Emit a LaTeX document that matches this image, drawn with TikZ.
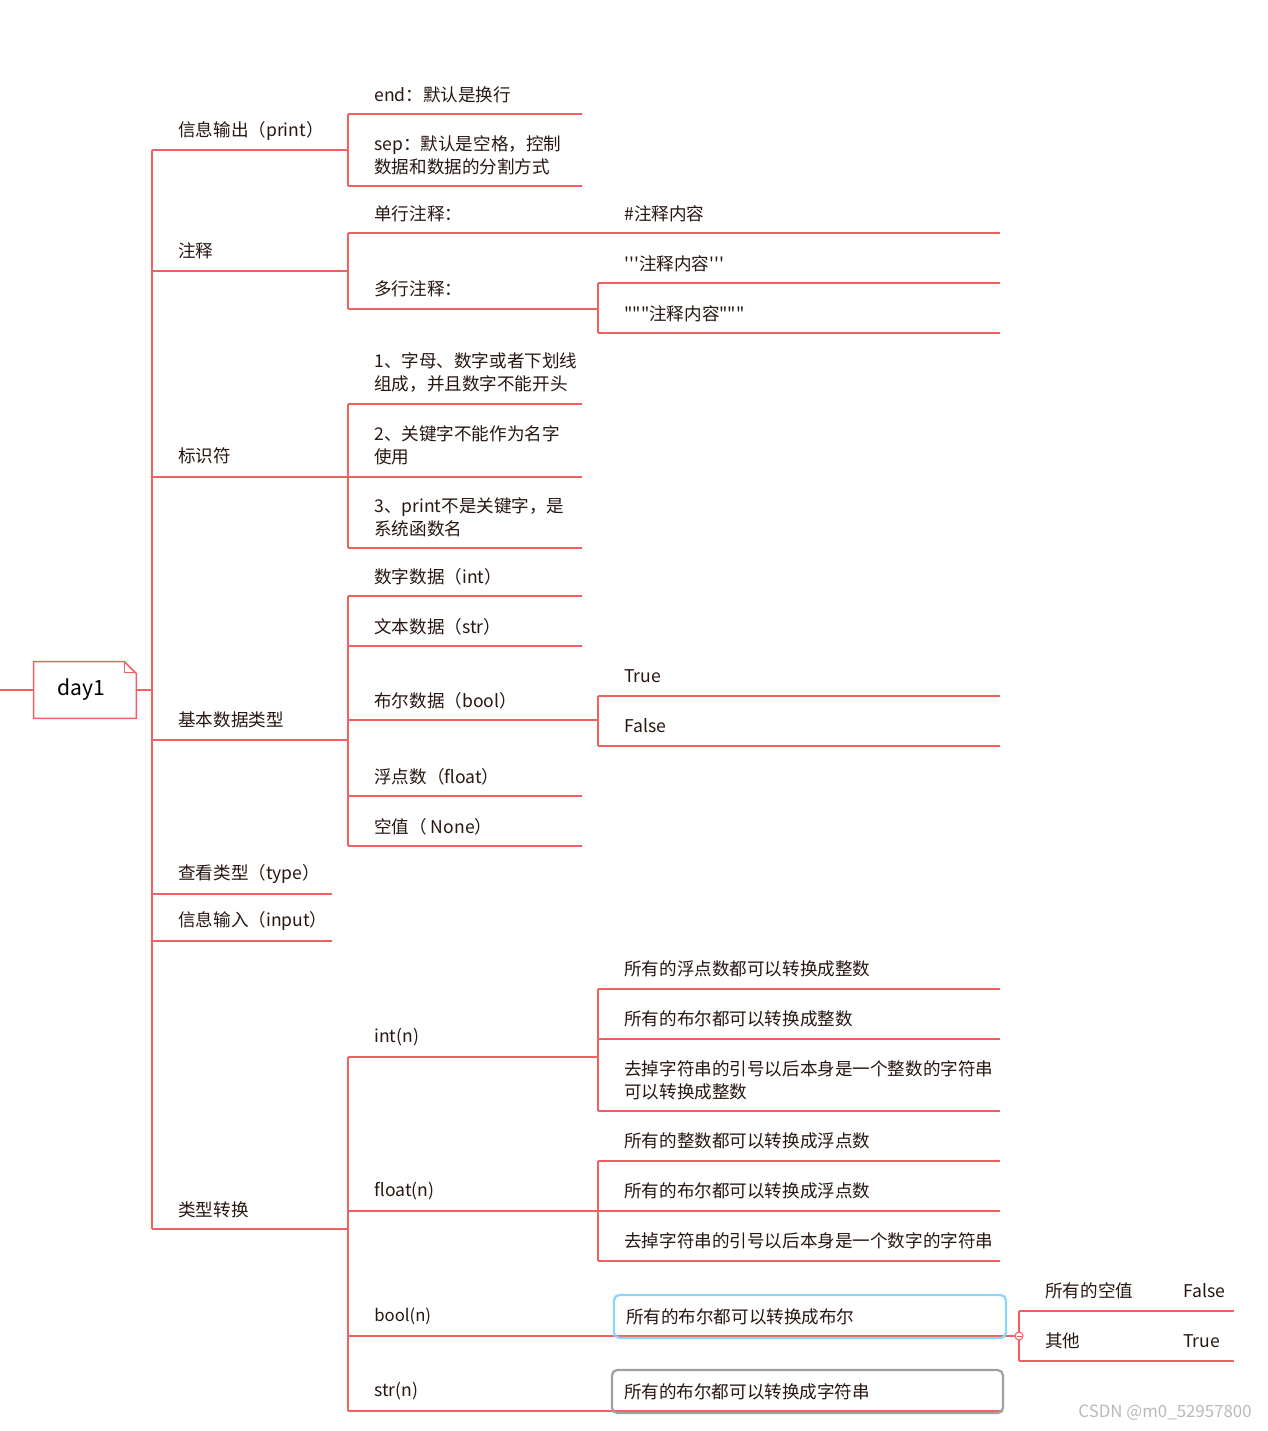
\documentclass[tikz,border=0pt]{standalone}
\usepackage{fontspec}
\usepackage{xcolor}
\newfontfamily\cjk{Noto Sans CJK SC}
\usetikzlibrary{positioning, calc}

\definecolor{mapred}{RGB}{242,96,96}
\definecolor{maptext}{RGB}{40,22,16}
\definecolor{selblue}{RGB}{140,212,248}
\definecolor{selgray}{RGB}{160,160,160}
\definecolor{markgray}{RGB}{185,185,185}

\begin{document}
\begin{tikzpicture}[x=0.02cm, y=-0.02cm,
    branch/.style={draw=mapred, line width=0.9pt},
    topic/.style={anchor=west, inner sep=0pt, align=left, text=maptext, font=\cjk\fontsize{10}{13}\selectfont},
    selbox/.style={draw, rounded corners=3pt, line width=1.3pt, inner xsep=0.24cm, inner ysep=0pt, minimum height=0.86cm, align=left, text=maptext, font=\cjk\fontsize{10}{13}\selectfont}]
    \useasboundingbox (0,0) rectangle (1268,1431);

    % Root
    \node[inner sep=0pt, minimum width=2.04cm, minimum height=1.12cm, font=\cjk\fontsize{12}{15}\selectfont, text=black] (day1) at (85,690) {\hspace*{-0.16cm}day1};
    \draw[mapred, line width=0.9pt] (day1.north west) -- ([xshift=-0.24cm]day1.north east) -- ([yshift=-0.24cm]day1.north east) -- (day1.south east) -- (day1.south west) -- cycle;
    \draw[mapred, line width=0.7pt] ([xshift=-0.24cm]day1.north east) -- ([xshift=-0.24cm, yshift=-0.22cm]day1.north east) -- ([yshift=-0.22cm]day1.north east);
    \coordinate (stub) at (0,690);
    \coordinate (trunk) at (152,690);
    \draw[branch] (stub) -- (day1.west);
    \draw[branch] (day1.east) -- (trunk);

    % Level 1 branches
    \coordinate (fprint) at (348,150);
    \coordinate (fnote) at (348,271);
    \coordinate (fident) at (348,477);
    \coordinate (fdata) at (348,740);
    \coordinate (ftype) at (332,894);
    \coordinate (finput) at (332,941);
    \coordinate (fconv) at (348,1229);
    \draw[branch] (trunk |- fprint) -- (trunk |- fconv);
    \foreach \f in {fprint,fnote,fident,fdata,ftype,finput,fconv}
        \draw[branch] (trunk |- \f) -- (\f);

    \node[topic] (tprint) at (178,131) {信息输出（print）};
    \node[topic] (tnote) at (178,251) {注释};
    \node[topic] (tident) at (178,456) {标识符};
    \node[topic] (tdata) at (178,720) {基本数据类型};
    \node[topic] (ttype) at (178,874) {查看类型（type）};
    \node[topic] (tinput) at (178,921) {信息输入（input）};
    \node[topic] (tconv) at (178,1210) {类型转换};

    % print
    \coordinate (eend) at (582,114);
    \coordinate (esep) at (582,186);
    \draw[branch] (fprint |- eend) -- (fprint |- esep);
    \foreach \e in {eend,esep} \draw[branch] (fprint |- \e) -- (\e);
    \node[topic] (tend) at (374,95) {end：默认是换行};
    \node[topic] (tsep) at (374,155.5) {sep：默认是空格，控制\\数据和数据的分割方式};

    % comments
    \coordinate (esingle) at (598,233);
    \coordinate (emulti) at (598,309);
    \coordinate (ehash) at (1000,233);
    \coordinate (eq3) at (1000,283);
    \coordinate (edq3) at (1000,333);
    \draw[branch] (fnote |- esingle) -- (fnote |- emulti);
    \foreach \e in {esingle,emulti} \draw[branch] (fnote |- \e) -- (\e);
    \draw[branch] (esingle) -- (ehash);
    \draw[branch] (emulti |- eq3) -- (emulti |- edq3);
    \foreach \e in {eq3,edq3} \draw[branch] (emulti |- \e) -- (\e);
    \node[topic] (tsingle) at (374,214) {单行注释：};
    \node[topic] (tmulti) at (374,289) {多行注释：};
    \node[topic] (thash) at (624,214) {\#注释内容};
    \node[topic] (tq3) at (624,264) {'''注释内容'''};
    \node[topic] (tdq3) at (624,314) {"""注释内容"""};

    % identifiers
    \coordinate (eid1) at (582,404);
    \coordinate (eid2) at (582,477);
    \coordinate (eid3) at (582,548);
    \draw[branch] (fident |- eid1) -- (fident |- eid3);
    \foreach \e in {eid1,eid2,eid3} \draw[branch] (fident |- \e) -- (\e);
    \node[topic] (tid1) at (374,372.5) {1、字母、数字或者下划线\\组成，并且数字不能开头};
    \node[topic] (tid2) at (374,445) {2、关键字不能作为名字\\使用};
    \node[topic] (tid3) at (374,517.5) {3、print不是关键字，是\\系统函数名};

    % data types
    \coordinate (enum) at (582,596);
    \coordinate (etxt) at (582,646);
    \coordinate (ebool) at (598,720);
    \coordinate (eflt) at (582,796);
    \coordinate (enone) at (582,846);
    \coordinate (etrue) at (1000,696);
    \coordinate (efalse) at (1000,746);
    \draw[branch] (fdata |- enum) -- (fdata |- enone);
    \foreach \e in {enum,etxt,ebool,eflt,enone} \draw[branch] (fdata |- \e) -- (\e);
    \draw[branch] (ebool |- etrue) -- (ebool |- efalse);
    \foreach \e in {etrue,efalse} \draw[branch] (ebool |- \e) -- (\e);
    \node[topic] (tnum) at (374,577) {数字数据（int）};
    \node[topic] (ttxt) at (374,627) {文本数据（str）};
    \node[topic] (tbool) at (374,701) {布尔数据（bool）};
    \node[topic] (tflt) at (374,777) {浮点数（float）};
    \node[topic] (tnone) at (374,827) {空值（ None）};
    \node[topic] (ttrue) at (624,676) {True};
    \node[topic] (tfalse) at (624,726) {False};

    % conversions
    \coordinate (eint) at (598,1057);
    \coordinate (efloat) at (598,1211);
    \coordinate (ebooln) at (598,1336);
    \coordinate (estr) at (598,1411);
    \draw[branch] (fconv |- eint) -- (fconv |- estr);
    \foreach \e in {eint,efloat,ebooln,estr} \draw[branch] (fconv |- \e) -- (\e);
    \node[topic] (tint) at (374,1037) {int(n)};
    \node[topic] (tfloat) at (374,1191) {float(n)};
    \node[topic, font=\cjk\fontsize{9.5}{12}\selectfont] (tbooln) at (374,1316) {bool(n)};
    \node[topic] (tstr) at (374,1391) {str(n)};

    % int(n)
    \coordinate (ei1) at (1000,989);
    \coordinate (ei2) at (1000,1039);
    \coordinate (ei3) at (1000,1111);
    \draw[branch] (eint |- ei1) -- (eint |- ei3);
    \foreach \e in {ei1,ei2,ei3} \draw[branch] (eint |- \e) -- (\e);
    \node[topic] (ti1) at (624,969) {所有的浮点数都可以转换成整数};
    \node[topic] (ti2) at (624,1019) {所有的布尔都可以转换成整数};
    \node[topic] (ti3) at (624,1080) {去掉字符串的引号以后本身是一个整数的字符串\\可以转换成整数};

    % float(n)
    \coordinate (ef1) at (1000,1161);
    \coordinate (ef2) at (1000,1211);
    \coordinate (ef3) at (1000,1261);
    \draw[branch] (efloat |- ef1) -- (efloat |- ef3);
    \foreach \e in {ef1,ef2,ef3} \draw[branch] (efloat |- \e) -- (\e);
    \node[topic] (tf1) at (624,1141) {所有的整数都可以转换成浮点数};
    \node[topic] (tf2) at (624,1191) {所有的布尔都可以转换成浮点数};
    \node[topic] (tf3) at (624,1241) {去掉字符串的引号以后本身是一个数字的字符串};

    % bool(n) and str(n)
    \coordinate (fbb) at (1019,1336);
    \coordinate (eempty) at (1234,1311);
    \coordinate (eother) at (1234,1361);
    \coordinate (estrend) at (1003,1411);
    \draw[branch] (ebooln) -- (fbb);
    \draw[branch] (estr) -- (estrend);
    \draw[branch] (fbb |- eempty) -- (fbb |- eother);
    \foreach \e in {eempty,eother} \draw[branch] (fbb |- \e) -- (\e);
    \node[selbox, draw=selblue, text width=7.36cm] (tbb) at (810,1316.5) {所有的布尔都可以转换成布尔};
    \node[selbox, draw=selgray, text width=7.34cm] (tsb) at (807.5,1391.5) {所有的布尔都可以转换成字符串};
    \node[circle, draw=mapred, fill=white, line width=0.6pt, inner sep=0pt, minimum size=0.16cm] (fold) at (fbb) {};
    \draw[mapred, line width=0.5pt] ([xshift=-0.05cm]fold.center) -- ([xshift=0.05cm]fold.center);
    \node[topic] (tempty) at (1045,1291) {所有的空值};
    \node[topic] (tfalse2) at (1183,1291) {False};
    \node[topic] (tother) at (1045,1341) {其他};
    \node[topic] (ttrue2) at (1183,1341) {True};

    % watermark
    \node[anchor=east, inner sep=0pt, text=markgray, font=\cjk\fontsize{9.6}{12}\selectfont] (mark) at (1252,1413) {CSDN @m0\_52957800};
\end{tikzpicture}
\end{document}
